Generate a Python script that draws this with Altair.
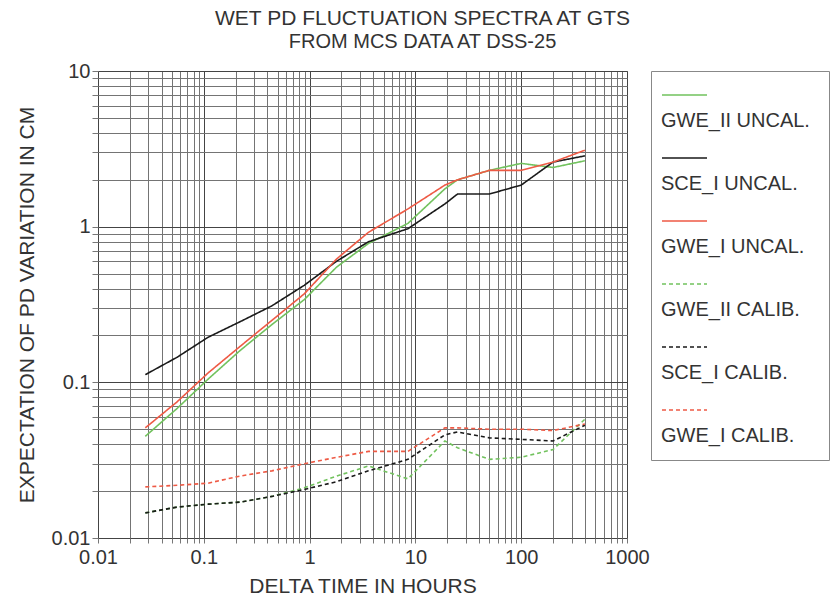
import altair as alt
import pandas as pd

# ---- data ----
x_hours = [0.028, 0.056, 0.11, 0.22, 0.44, 0.89, 1.8, 3.6, 8.5, 19, 25, 50, 100, 200, 400]

gwe2_uncal = [0.045, 0.068, 0.105, 0.16, 0.235, 0.34, 0.55, 0.78, 1.05, 1.75, 2.0, 2.3, 2.55, 2.4, 2.65]
sce1_uncal = [0.112, 0.145, 0.195, 0.245, 0.31, 0.42, 0.60, 0.80, 0.97, 1.40, 1.62, 1.62, 1.85, 2.6, 2.85]
gwe1_uncal = [0.051, 0.075, 0.115, 0.17, 0.25, 0.37, 0.62, 0.92, 1.3, 1.85, 2.0, 2.3, 2.3, 2.6, 3.1]
gwe2_calib = [0.0145, 0.0158, 0.0165, 0.017, 0.0185, 0.021, 0.025, 0.029, 0.024, 0.042, 0.038, 0.032, 0.033, 0.037, 0.058]
sce1_calib = [0.0145, 0.0158, 0.0165, 0.017, 0.0185, 0.0205, 0.023, 0.027, 0.032, 0.046, 0.048, 0.044, 0.043, 0.042, 0.053]
gwe1_calib = [0.0213, 0.0218, 0.0225, 0.025, 0.027, 0.030, 0.033, 0.036, 0.036, 0.051, 0.051, 0.050, 0.050, 0.049, 0.054]

series_names = ["GWE_II UNCAL.", "SCE_I UNCAL.", "GWE_I UNCAL.",
                "GWE_II CALIB.", "SCE_I CALIB.", "GWE_I CALIB."]
series_values = [gwe2_uncal, sce1_uncal, gwe1_uncal, gwe2_calib, sce1_calib, gwe1_calib]
series_colors = ["#72c25e", "#1a1a1a", "#ee5a45", "#72c25e", "#1a1a1a", "#ee5a45"]
series_dashes = [[1, 0], [1, 0], [1, 0], [4, 3], [4, 3], [4, 3]]

x_ticks = [k * 10.0 ** e for e in range(-2, 3) for k in range(1, 10)] + [1000.0]
y_ticks = [k * 10.0 ** e for e in range(-2, 1) for k in range(1, 10)] + [10.0]

rows = []
for name, vals in zip(series_names, series_values):
    for xv, yv in zip(x_hours, vals):
        rows.append({"series": name, "x": xv, "y": yv})
df = pd.DataFrame(rows)

leg_df = pd.DataFrame({"series": series_names, "idx": list(range(len(series_names)))})

FONT = "'Liberation Sans', Arial, sans-serif"
is_major = "abs(log(datum.value)/LN10 - round(log(datum.value)/LN10)) < 1e-6"
grid_col = {"condition": {"test": is_major, "value": "#444"}, "value": "#747474"}

color_scale = alt.Scale(domain=series_names, range=series_colors)
dash_scale = alt.Scale(domain=series_names, range=series_dashes)

main = alt.Chart(df).mark_line(strokeWidth=1.6, clip=True).encode(
    x=alt.X("x:Q",
            scale=alt.Scale(type="log", domain=[0.01, 1000], nice=False),
            axis=alt.Axis(values=x_ticks, format="~g",
                          labelExpr=f"({is_major}) ? datum.label : ''",
                          title="DELTA TIME IN HOURS",
                          gridColor=grid_col, labelFlush=False, labelOverlap=False,
                          tickColor="#777", tickSize=5, labelPadding=4,
                          titlePadding=8, domain=False)),
    y=alt.Y("y:Q",
            scale=alt.Scale(type="log", domain=[0.01, 10], nice=False),
            axis=alt.Axis(values=y_ticks, format="~g",
                          labelExpr=f"({is_major}) ? datum.label : ''",
                          title="EXPECTATION OF PD VARIATION IN CM",
                          gridColor=grid_col, labelOverlap=False,
                          tickColor="#777", tickSize=6, labelPadding=2,
                          titlePadding=14, domain=False)),
    color=alt.Color("series:N", scale=color_scale, legend=None),
    strokeDash=alt.StrokeDash("series:N", scale=dash_scale, legend=None),
).properties(width=529, height=467)

leg_base = alt.Chart(leg_df).encode(
    y=alt.Y("idx:Q", scale=alt.Scale(domain=[-24 / 63, 365 / 63], reverse=True, nice=False, zero=False),
            axis=None)
)
leg_rules = leg_base.mark_rule(strokeWidth=1.6).encode(
    x=alt.value(11), x2=alt.value(56),
    color=alt.Color("series:N", scale=color_scale, legend=None),
    strokeDash=alt.StrokeDash("series:N", scale=dash_scale, legend=None),
)
leg_text = leg_base.mark_text(align="left", baseline="middle", dy=26, fontSize=20,
                              font=FONT, color="#333").encode(
    x=alt.value(10), text="series:N"
)
legend = alt.layer(leg_rules, leg_text).properties(width=178, height=389)

chart = alt.hconcat(main, legend, spacing=24, bounds="flush").properties(
    title=alt.TitleParams(
        text="WET PD FLUCTUATION SPECTRA AT GTS",
        subtitle="FROM MCS DATA AT DSS-25",
        anchor="middle", fontSize=21, subtitleFontSize=20, fontWeight="normal",
        font=FONT, subtitleFont=FONT, color="#333", subtitleColor="#333",
        subtitlePadding=3, offset=9,
    ),
    padding={"left": 15, "top": 7, "right": 0, "bottom": 0},
    background="white",
).configure_view(stroke="#888").configure_axis(
    labelFont=FONT, titleFont=FONT, labelFontSize=20, titleFontSize=21,
    labelColor="#333", titleColor="#333", titleFontWeight="normal", gridWidth=1,
)

chart.save("out.html", embed_options={"renderer": "svg", "actions": False})
